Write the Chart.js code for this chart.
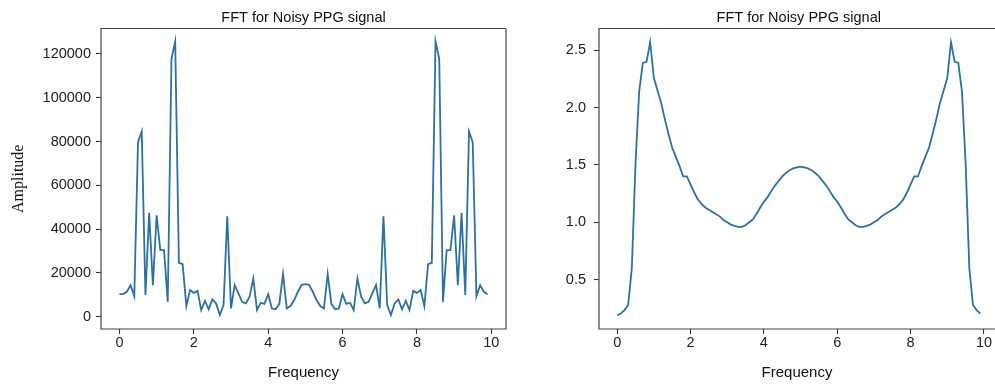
<!DOCTYPE html>
<html>
<head>
<meta charset="utf-8">
<script src="https://cdn.jsdelivr.net/npm/chart.js@4.4.0/dist/chart.umd.min.js"></script>
<style>
    html, body { margin: 0; padding: 0; background: #fff; overflow: hidden; width: 995px; height: 385px; }
    canvas { position: absolute; top: 0; display: block; }
    #fftRaw { left: 0; }
    #fftSmooth { left: 520px; }
</style>
</head>
<body>
<canvas id="fftRaw" width="520" height="385"></canvas>
<canvas id="fftSmooth" width="475" height="385"></canvas>
<script>
// frequency bins (0.1 step)
const freq = [
    0.0, 0.1, 0.2, 0.3, 0.4, 0.5, 0.6, 0.7, 0.8, 0.9,
    1.0, 1.1, 1.2, 1.3, 1.4, 1.5, 1.6, 1.7, 1.8, 1.9,
    2.0, 2.1, 2.2, 2.3, 2.4, 2.5, 2.6, 2.7, 2.8, 2.9,
    3.0, 3.1, 3.2, 3.3, 3.4, 3.5, 3.6, 3.7, 3.8, 3.9,
    4.0, 4.1, 4.2, 4.3, 4.4, 4.5, 4.6, 4.7, 4.8, 4.9,
    5.0, 5.1, 5.2, 5.3, 5.4, 5.5, 5.6, 5.7, 5.8, 5.9,
    6.0, 6.1, 6.2, 6.3, 6.4, 6.5, 6.6, 6.7, 6.8, 6.9,
    7.0, 7.1, 7.2, 7.3, 7.4, 7.5, 7.6, 7.7, 7.8, 7.9,
    8.0, 8.1, 8.2, 8.3, 8.4, 8.5, 8.6, 8.7, 8.8, 8.9,
    9.0, 9.1, 9.2, 9.3, 9.4, 9.5, 9.6, 9.7, 9.8, 9.9
];

// left panel: raw FFT amplitude
const rawAmp = [
    10300, 10300, 11400, 14400, 9400, 79700, 84600, 9900, 47400, 14400,
    46300, 30400, 30400, 6800, 117700, 125700, 24600, 24000, 4900, 12200,
    10900, 11800, 3000, 7300, 3400, 7900, 6100, 800, 5300, 45900,
    3800, 14400, 10700, 6800, 6100, 9100, 17500, 3000, 6400, 5900,
    10300, 3800, 3400, 5900, 19500, 3800, 4900, 7600, 11400, 14600,
    14900, 14600, 11400, 7600, 4900, 3800, 19500, 5900, 3400, 3800,
    10300, 5900, 6400, 3000, 17500, 9100, 6100, 6800, 10700, 14400,
    3800, 45900, 5300, 800, 6100, 7900, 3400, 7300, 3000, 11800,
    10900, 12200, 4900, 24000, 24600, 125700, 117700, 6800, 30400, 30400,
    46300, 14400, 47400, 9900, 84600, 79700, 9400, 14400, 11400, 10300
];

// right panel: smoothed FFT amplitude
const smoothAmp = [
    0.19, 0.205, 0.235, 0.28, 0.60, 1.51, 2.14, 2.39, 2.40, 2.57,
    2.26, 2.15, 2.04, 1.90, 1.77, 1.65, 1.57, 1.49, 1.40, 1.40,
    1.33, 1.26, 1.20, 1.16, 1.13, 1.11, 1.09, 1.07, 1.05, 1.02,
    1.00, 0.98, 0.97, 0.96, 0.96, 0.975, 1.00, 1.025, 1.075, 1.13,
    1.18, 1.22, 1.27, 1.32, 1.36, 1.40, 1.43, 1.455, 1.47, 1.48,
    1.485, 1.48, 1.47, 1.455, 1.43, 1.40, 1.36, 1.32, 1.27, 1.22,
    1.18, 1.13, 1.075, 1.025, 1.00, 0.975, 0.96, 0.96, 0.97, 0.98,
    1.00, 1.02, 1.05, 1.07, 1.09, 1.11, 1.13, 1.16, 1.20, 1.26,
    1.33, 1.40, 1.40, 1.49, 1.57, 1.65, 1.77, 1.90, 2.04, 2.15,
    2.26, 2.57, 2.40, 2.39, 2.14, 1.51, 0.60, 0.28, 0.235, 0.205
];

// tick labels
const freqTicks = [0, 2, 4, 6, 8, 10];
const rawTicks = [0, 20000, 40000, 60000, 80000, 100000, 120000];
const smoothTicks = [0.5, 1.0, 1.5, 2.0, 2.5];

const TITLE = 'FFT for Noisy PPG signal';
const LINE_COLOR = '#2a71a6';
const SANS = "'Liberation Sans', Arial, sans-serif";
const X_MIN = -0.495, X_MAX = 10.395;

// spines around the plot area (right one optional) + title centred over the axes
const frameBox = {
    id: 'frameBox',
    afterDatasetsDraw(chart, args, pluginOpts) {
        const a = chart.chartArea;
        const ctx = chart.ctx;
        ctx.save();
        ctx.strokeStyle = '#444';
        ctx.lineWidth = 1.2;
        ctx.beginPath();
        ctx.moveTo(a.right, a.top);
        ctx.lineTo(a.left, a.top);
        ctx.lineTo(a.left, a.bottom);
        ctx.lineTo(a.right, a.bottom);
        if (pluginOpts.rightSpine) ctx.lineTo(a.right, a.top);
        ctx.stroke();

        // title: centred on the full axes width, even when it is cut off
        const cx = chart.scales.x.getPixelForValue((X_MIN + X_MAX) / 2);
        ctx.fillStyle = '#111';
        ctx.font = '14.5px ' + SANS;
        ctx.textAlign = 'center';
        ctx.textBaseline = 'alphabetic';
        ctx.fillText(TITLE, cx, 21.5);
        ctx.restore();
    }
};

function makeChart(canvasId, values, yTicks, opts) {
    const ctx = document.getElementById(canvasId).getContext('2d');
    return new Chart(ctx, {
        type: 'line',
        data: {
            datasets: [{
                data: freq.map((f, i) => ({ x: f, y: values[i] })),
                borderColor: LINE_COLOR,
                borderWidth: 1.8,
                pointRadius: 0,
                tension: 0,
                fill: false
            }]
        },
        options: {
            responsive: false,
            animation: false,
            devicePixelRatio: 1,
            layout: { padding: { left: 0, right: opts.padRight, top: 28.5, bottom: 0 } },
            plugins: {
                legend: { display: false },
                tooltip: { enabled: false },
                title: { display: false },
                frameBox: { rightSpine: opts.rightSpine }
            },
            scales: {
                x: {
                    type: 'linear',
                    min: X_MIN,
                    max: opts.xMax,
                    afterBuildTicks: s => { s.ticks = freqTicks.map(v => ({ value: v })); },
                    afterFit: s => { s.height = 56; },
                    border: { display: false },
                    grid: { drawOnChartArea: false, drawTicks: true, tickLength: 5, tickColor: '#333', tickWidth: 1.1 },
                    ticks: { color: '#222', padding: 0, maxRotation: 0, font: { family: SANS, size: 14.5 },
                             callback: v => String(v) },
                    title: { display: true, text: 'Frequency', color: '#111',
                             font: { family: SANS, size: 15 }, padding: { top: 0, bottom: 3 } }
                },
                y: {
                    min: opts.yMin,
                    max: opts.yMax,
                    afterBuildTicks: s => { s.ticks = yTicks.map(v => ({ value: v })); },
                    afterFit: s => { s.width = opts.yWidth; },
                    border: { display: false },
                    grid: { drawOnChartArea: false, drawTicks: true, tickLength: 5, tickColor: '#333', tickWidth: 1.1 },
                    ticks: { color: '#222', padding: opts.yPad, font: { family: SANS, size: 14.5 },
                             callback: opts.fmt },
                    title: opts.yTitle
                }
            }
        },
        plugins: [frameBox]
    });
}

makeChart('fftRaw', rawAmp, rawTicks, {
    yMin: -5600, yMax: 131600, xMax: X_MAX, yWidth: 101, yPad: 5, padRight: 14, rightSpine: true,
    fmt: v => String(v),
    yTitle: { display: true, text: 'Amplitude', color: '#111',
              font: { family: "'Liberation Serif', 'Times New Roman', serif", size: 16 },
              padding: { top: 9, bottom: 0 } }
});

// right panel is cut by the window edge: axis stops at x = 10.3, no right spine
makeChart('fftSmooth', smoothAmp, smoothTicks, {
    yMin: 0.07, yMax: 2.69, xMax: 10.3, yWidth: 79, yPad: 8, padRight: 0, rightSpine: false,
    fmt: v => v.toFixed(1),
    yTitle: { display: false }
});
</script>
</body>
</html>
